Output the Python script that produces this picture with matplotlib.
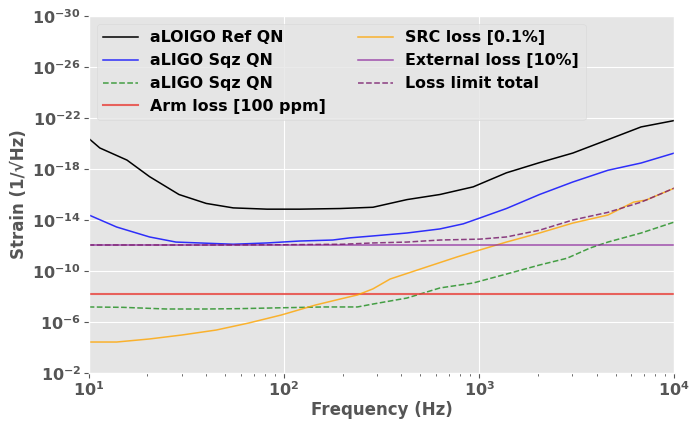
import numpy as np
import matplotlib
matplotlib.use("Agg")
import matplotlib.pyplot as plt

# Kurvor lesnar av bilden (frekvens i Hz, log10 av strain)
f_ref = [10, 11.4, 15.7, 20.5, 29, 40, 55, 82, 120, 194, 286, 427, 630, 933,
         1380, 2040, 3020, 4570, 6760, 10000]
e_ref = [-20.4, -19.65, -18.7, -17.4, -16.0, -15.3, -14.95, -14.85, -14.85, -14.9,
         -15.0, -15.6, -16.0, -16.6, -17.7, -18.5, -19.25, -20.3, -21.3, -21.8]

f_sqz = [10, 13.9, 20.5, 28, 37, 55, 82, 120, 178, 218, 286, 427, 630, 830,
         1010, 1380, 2040, 3020, 4570, 6760, 10000]
e_sqz = [-14.4, -13.45, -12.67, -12.27, -12.2, -12.1, -12.2, -12.35, -12.43, -12.6,
         -12.75, -12.98, -13.3, -13.7, -14.16, -14.9, -16.0, -16.98, -17.9, -18.47, -19.25]

f_sqz2 = [10, 15, 25, 40, 60, 100, 160, 238, 286, 427, 630, 933, 1380, 2040,
          2820, 3700, 4570, 6760, 10000]
e_sqz2 = [-7.18, -7.15, -7.02, -7.02, -7.05, -7.12, -7.18, -7.18, -7.41, -7.88,
          -8.67, -9.06, -9.76, -10.47, -11.0, -11.8, -12.27, -12.98, -13.84]

f_src = [10, 13.9, 20.5, 30, 45, 66, 97, 145, 194, 238, 286, 350, 520, 770,
         1010, 1380, 2040, 3020, 4570, 6180, 7200, 7800, 10000]
e_src = [-4.43, -4.43, -4.67, -4.98, -5.37, -5.92, -6.55, -7.33, -7.8, -8.12,
         -8.6, -9.37, -10.24, -11.1, -11.65, -12.27, -12.98, -13.76, -14.39,
         -15.4, -15.57, -15.8, -16.5]

f_tot = [10, 50, 100, 200, 286, 427, 630, 1010, 1380, 2040, 3020, 4570, 6760, 10000]
e_tot = [-12.04, -12.04, -12.06, -12.1, -12.2, -12.27, -12.43, -12.5, -12.67,
         -13.2, -14.0, -14.6, -15.4, -16.5]

f_flat = [10, 10000]
arm_loss = -8.2
ext_loss = -12.04

plt.style.use("ggplot")
plt.rcParams["font.weight"] = "bold"
plt.rcParams["axes.labelweight"] = "bold"

fig = plt.figure(figsize=(6.93, 4.21), dpi=100)
ax = fig.add_axes([0.128, 0.114, 0.845, 0.848])

ax.plot(f_ref, 10.0 ** np.array(e_ref), color="black", lw=1.1, label="aLOIGO Ref QN")
ax.plot(f_sqz, 10.0 ** np.array(e_sqz), color="blue", lw=1.1, alpha=0.8, label="aLIGO Sqz QN")
ax.plot(f_sqz2, 10.0 ** np.array(e_sqz2), "--", color="green", lw=1.1, alpha=0.7, label="aLIGO Sqz QN")
ax.plot(f_flat, [10.0 ** arm_loss] * 2, color="#e8403a", lw=1.5, alpha=0.8, label="Arm loss [100 ppm]")
ax.plot(f_src, 10.0 ** np.array(e_src), color="orange", lw=1.1, alpha=0.8, label="SRC loss [0.1%]")
ax.plot(f_flat, [10.0 ** ext_loss] * 2, color="#8e2a9e", lw=1.1, alpha=0.8, label="External loss [10%]")
ax.plot(f_tot, 10.0 ** np.array(e_tot), "--", color="#7a1f6e", lw=1.1, alpha=0.85, label="Loss limit total")

ax.set_xscale("log")
ax.set_yscale("log")
ax.set_xlim(10, 1e4)
ax.set_ylim(1e-2, 1e-30)
ax.set_yticks([10.0 ** k for k in range(-30, 0, 4)])
ax.yaxis.set_minor_locator(matplotlib.ticker.NullLocator())
ax.tick_params(axis="both", which="major", labelsize=11.5, colors="#555555", pad=2)
ax.tick_params(axis="x", which="minor", colors="#555555")

ax.set_xlabel("Frequency (Hz)", fontsize=12, color="#555555", labelpad=1)
ax.set_ylabel("Strain (1/\u221aHz)", fontsize=12, color="#555555", labelpad=3)

leg = ax.legend(loc="upper left", ncol=2, fontsize=11.4, frameon=True,
                columnspacing=2.0, handlelength=2.2, handletextpad=0.8,
                borderaxespad=0.5, labelspacing=0.5)
leg.get_frame().set_facecolor("#E5E5E5")
leg.get_frame().set_edgecolor("#d8d8d8")
for t in leg.get_texts():
    t.set_color("black")

plt.savefig("out.png", dpi=100)
